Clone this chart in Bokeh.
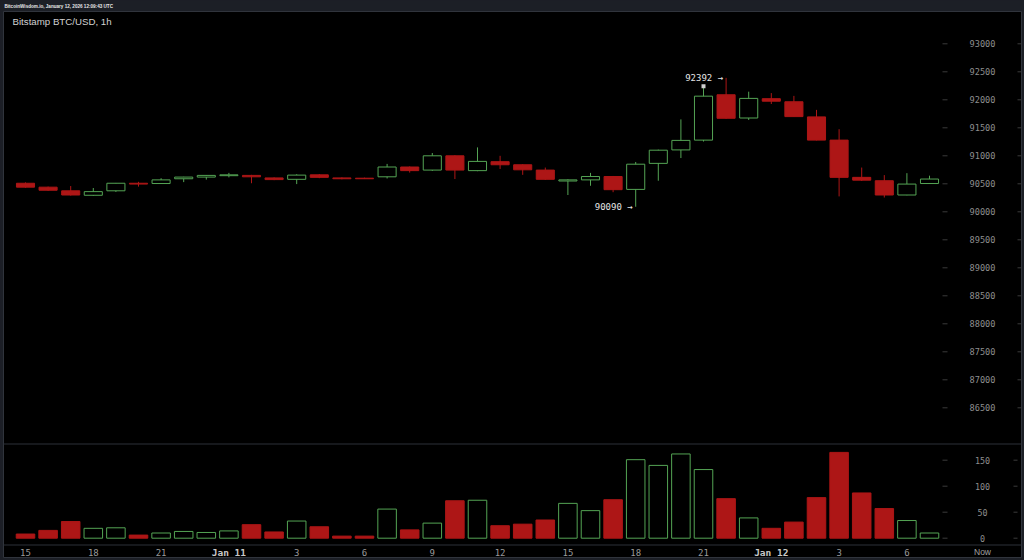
import numpy as np
from bokeh.plotting import figure
from bokeh.models import Range1d, ColumnDataSource
from bokeh.core.properties import value
from bokeh.embed import file_html
from bokeh.resources import INLINE

# ---------------- data ----------------
hour_of_day = [15, 16, 17, 18, 19, 20, 21, 22, 23,
               0, 1, 2, 3, 4, 5, 6, 7, 8, 9, 10, 11, 12, 13, 14, 15, 16, 17, 18, 19, 20, 21, 22, 23,
               0, 1, 2, 3, 4, 5, 6, 7]
opens = [90510, 90440, 90375, 90295, 90375, 90510, 90505, 90590, 90620,
         90645, 90650, 90605, 90580, 90660, 90605, 90600, 90625, 90800, 90745, 91000, 90735, 90895,
         90840, 90745, 90550, 90570, 90630, 90400, 90865, 91105, 91280, 92090, 91675,
         92020, 91965, 91695, 91280, 90615, 90555, 90300, 90505]
highs = [90525, 90450, 90460, 90425, 90515, 90535, 90600, 90625, 90655,
         90695, 90660, 90615, 90670, 90675, 90615, 90610, 90855, 90810, 91050, 91010, 91150, 91000,
         90850, 90790, 90580, 90695, 90640, 90890, 91110, 91650, 92240, 92392, 92145,
         92120, 92070, 91820, 91475, 90790, 90655, 90690, 90645]
lows = [90430, 90375, 90290, 90285, 90355, 90450, 90500, 90530, 90575,
        90615, 90510, 90565, 90495, 90600, 90580, 90585, 90595, 90700, 90730, 90585, 90725, 90765,
        90660, 90570, 90300, 90465, 90350, 90090, 90555, 90960, 91255, 91660, 91640,
        91925, 91695, 91275, 90275, 90550, 90255, 90295, 90500]
closes = [90440, 90385, 90300, 90360, 90510, 90495, 90570, 90620, 90650,
          90660, 90625, 90575, 90655, 90615, 90590, 90590, 90800, 90735, 91000, 90745, 90900, 90840,
          90750, 90580, 90570, 90630, 90395, 90850, 91100, 91275, 92065, 91670, 92025,
          91975, 91700, 91280, 90615, 90565, 90300, 90495, 90585]
volumes = [8, 15, 32, 19, 20, 6, 10, 13, 11,
           14, 26, 12, 33, 22, 4, 4, 56, 16, 29, 72, 73, 24,
           27, 35, 67, 53, 74, 151, 140, 162, 132, 76, 39,
           19, 31, 78, 165, 87, 57, 34, 10]

time_tick_idx = [0, 3, 6, 9, 12, 15, 18, 21, 24, 27, 30, 33, 36, 39]
time_tick_labels = ["15", "18", "21", "Jan 11", "3", "6", "9", "12", "15", "18", "21", "Jan 12", "3", "6"]
now_label = ["Now"]
price_ticks = [86500, 87000, 87500, 88000, 88500, 89000, 89500, 90000,
               90500, 91000, 91500, 92000, 92500, 93000]
volume_ticks = [0, 50, 100, 150]
marker_idx = [30]
title_text = "Bitstamp BTC/USD, 1h"
header_text = "BitcoinWisdom.io, January 12, 2026 12:09:43 UTC"

# ---------------- layout constants ----------------
W, H = 1024, 560
X0_PX, X_STEP = 25.0, 22.6                 # first candle centre, px per hour
P_HI, P_HI_PX, P_LO, P_LO_PX = 93000, 43.3, 86500, 407.3
V_HI, V_HI_PX, V_LO_PX = 150, 459.7, 537.7
AXIS_PX = 982
OUTER = "#1c1f26"
BORDER = "#30343c"
GREEN = "#54a454"
RED = "#ad1616"

ppx = (P_LO_PX - P_HI_PX) / (P_HI - P_LO)
price_top = P_HI + P_HI_PX / ppx
price_bot = price_top - H / ppx
vpx = (V_LO_PX - V_HI_PX) / V_HI
vol_top = V_LO_PX / vpx
vol_bot = -(H - V_LO_PX) / vpx

p = figure(width=W, height=H, output_backend="svg", toolbar_location=None,
           x_range=Range1d(-X0_PX / X_STEP, (W - X0_PX) / X_STEP),
           y_range=Range1d(H, 0), title=None,
           x_axis_location=None, y_axis_location=None, min_border=0)
p.grid.visible = False
p.outline_line_color = None
p.background_fill_color = OUTER
p.border_fill_color = OUTER
p.extra_x_ranges = {"px": Range1d(0, W)}
p.extra_y_ranges = {"price": Range1d(price_bot, price_top), "vol": Range1d(vol_bot, vol_top)}

# panel
p.quad(left=[3], right=[1021], top=[11], bottom=[557], x_range_name="px",
       fill_color="#000000", line_color=BORDER, line_width=1)
p.segment(x0=[3, 3], x1=[1021, 1021], y0=[443.5, 544.5], y1=[443.5, 544.5],
          x_range_name="px", line_color="#2c3038", line_width=1)

# texts
p.text(x=[4], y=[5.5], text=[header_text], x_range_name="px",
       text_font=value("Liberation Sans"), text_font_size="4.6px", text_font_style="bold",
       text_color="#e6e6e6", text_baseline="middle")
p.text(x=[12], y=[20.5], text=[title_text], x_range_name="px",
       text_font=value("Liberation Sans"), text_font_size="9.7px",
       text_color="#d2d2d2", text_baseline="middle")

# candles
up = [c >= o for o, c in zip(opens, closes)]
src = ColumnDataSource(dict(
    x=list(range(len(opens))),
    o=opens, h=highs, l=lows, c=closes, v=volumes,
    top=[max(o, c) for o, c in zip(opens, closes)],
    bot=[min(o, c) for o, c in zip(opens, closes)],
    line=[GREEN if u else RED for u in up],
    fill=["#000000" if u else RED for u in up],
))
p.segment(x0="x", x1="x", y0="l", y1="h", source=src, y_range_name="price",
          line_color="line", line_width=1)
p.vbar(x="x", top="top", bottom="bot", width=0.8, source=src, y_range_name="price",
       fill_color="fill", line_color="line", line_width=1)

# volume
p.vbar(x="x", top="v", bottom=0, width=0.82, source=src, y_range_name="vol",
       fill_color="fill", line_color="line", line_width=1)

# marker + hi/lo annotations
p.scatter(x=marker_idx, y=[highs[i] for i in marker_idx], y_range_name="price",
          marker="square", size=4, fill_color="#cfcfcf", line_color=None)
i_hi = int(np.argmax(highs))
i_lo = int(np.argmin(lows))
p.text(x=[i_hi, i_lo], y=[highs[i_hi], lows[i_lo]],
       text=[f"{highs[i_hi]} \u2192", f"{lows[i_lo]} \u2192"], y_range_name="price",
       text_align="right", text_baseline="middle", x_offset=-3,
       text_font=value("DejaVu Sans Mono"), text_font_size="9px", text_color="#e4e4e4")

# price axis
p.text(x=[AXIS_PX] * len(price_ticks), y=price_ticks, text=[str(t) for t in price_ticks],
       x_range_name="px", y_range_name="price", text_align="center", text_baseline="middle",
       text_font=value("DejaVu Sans Mono"), text_font_size="8.6px", text_color="#8e8e8e")
p.segment(x0=[942] * len(price_ticks), x1=[947] * len(price_ticks), y0=price_ticks, y1=price_ticks,
          x_range_name="px", y_range_name="price", line_color="#3a3a3a")
p.segment(x0=[1017] * len(price_ticks), x1=[1021] * len(price_ticks), y0=price_ticks, y1=price_ticks,
          x_range_name="px", y_range_name="price", line_color="#3a3a3a")

# volume axis
p.text(x=[AXIS_PX] * len(volume_ticks), y=volume_ticks, text=[str(t) for t in volume_ticks],
       x_range_name="px", y_range_name="vol", text_align="center", text_baseline="middle",
       text_font=value("DejaVu Sans Mono"), text_font_size="8.4px", text_color="#8e8e8e")
p.segment(x0=[942] * len(volume_ticks), x1=[947] * len(volume_ticks), y0=volume_ticks, y1=volume_ticks,
          x_range_name="px", y_range_name="vol", line_color="#3a3a3a")
p.segment(x0=[1013] * len(volume_ticks), x1=[1017] * len(volume_ticks), y0=volume_ticks, y1=volume_ticks,
          x_range_name="px", y_range_name="vol", line_color="#3a3a3a")

# time axis
plain = [(i, t) for i, t in zip(time_tick_idx, time_tick_labels) if not t.startswith("Jan")]
bold = [(i, t) for i, t in zip(time_tick_idx, time_tick_labels) if t.startswith("Jan")]
p.text(x=[i for i, _ in plain], y=[551.5] * len(plain), text=[t for _, t in plain],
       text_align="center", text_baseline="middle",
       text_font=value("DejaVu Sans Mono"), text_font_size="9px", text_color="#9a9a9a")
p.text(x=[i for i, _ in bold], y=[551.5] * len(bold), text=[t for _, t in bold],
       text_align="center", text_baseline="middle", text_font_style="bold",
       text_font=value("DejaVu Sans Mono"), text_font_size="9.5px", text_color="#c8c8c8")
p.text(x=[AXIS_PX], y=[551.5], text=now_label, x_range_name="px",
       text_align="center", text_baseline="middle",
       text_font=value("Liberation Sans"), text_font_size="8.5px", text_color="#a0a0a0")

tmpl = """{% block preamble %}<style>html, body {margin:0 !important; padding:0 !important; background:#1c1f26 !important;}</style>{% endblock %}"""
open("out.html", "w").write(file_html(p, INLINE, title="Bitstamp BTC/USD", template=tmpl))
